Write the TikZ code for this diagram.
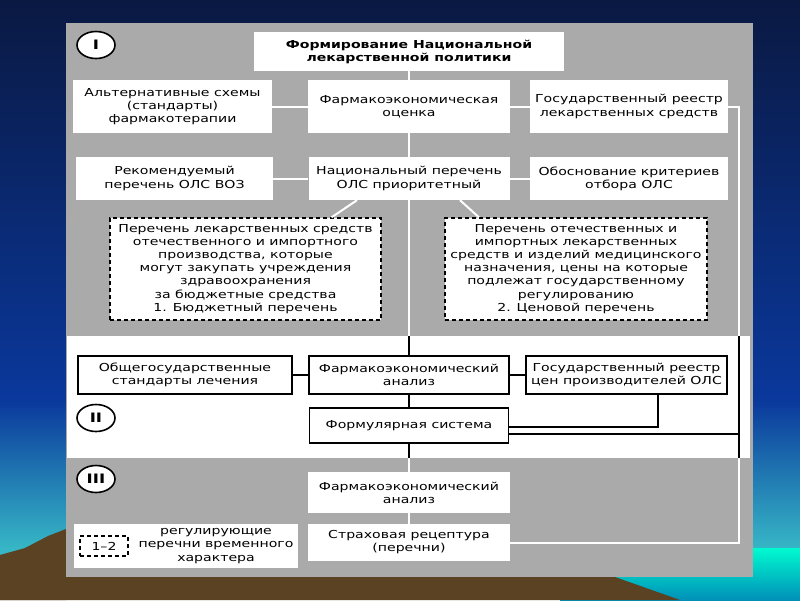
\documentclass[tikz,border=0pt]{standalone}
\usepackage{fontspec}
\setmainfont{DejaVu Sans}[FakeStretch=1.28]
\usetikzlibrary{calc,shapes.geometric}
\definecolor{panel}{HTML}{AAAAAA}
\definecolor{skyA}{HTML}{0A1942}
\definecolor{skyB}{HTML}{0A389C}
\definecolor{skyC}{HTML}{36B6C6}
\definecolor{sea}{HTML}{00FAD0}
\definecolor{seaB}{HTML}{0090B8}
\definecolor{ground}{HTML}{5A4222}
\begin{document}
\begin{tikzpicture}[x=1pt,y=-1pt,
  font=\fontsize{11}{13.1}\selectfont,
  wbox/.style={fill=white, draw=none, align=center, inner sep=0pt},
  dbox/.style={wbox, draw=black, dash pattern=on 4pt off 3pt, line width=1.3pt},
  bbox/.style={wbox, draw=black, line width=1.8pt},
  wl/.style={white, line width=2pt},
  bl/.style={black, line width=2pt},
  circ/.style={ellipse, draw=black, line width=1.6pt, fill=white, minimum width=38pt, minimum height=27pt, inner sep=0pt, font=\bfseries\fontsize{13}{13}\selectfont}]
\useasboundingbox (0,0) rectangle (800,600);
% background scene
\shade[top color=skyA, bottom color=skyB] (0,0) rectangle (800,400);
\shade[top color=skyB, bottom color=skyC] (0,400) rectangle (800,548);
\fill[skyC] (0,548) rectangle (560,600);
\shade[top color=sea, bottom color=seaB] (560,548) rectangle (800,600);
\fill[ground] (0,555) -- (25,548) -- (48,536) -- (66,529) -- (66,600) -- (0,600) -- cycle;
\fill[ground] (0,577) -- (615,577) -- (680,600) -- (0,600) -- cycle;
% panel
\fill[panel] (66,23) rectangle (753,577);
\fill[white] (67,336) rectangle (750,458);
% section markers
\node[circ] (c1) at (96,45) {I};
\node[circ] (c2) at (96,418) {II};
\node[circ] (c3) at (96,479) {III};
% section I
\node[wbox, minimum width=310pt, minimum height=39pt, font=\bfseries\fontsize{11}{13.1}\selectfont] (title) at (409,51.5) {Формирование Национальной\\лекарственной политики};
\node[wbox, minimum width=199pt, minimum height=53pt] (alt) at (172.5,106.5) {Альтернативные схемы\\(стандарты)\\фармакотерапии};
\node[wbox, minimum width=202pt, minimum height=53pt] (pha) at (409,106.5) {Фармакоэкономическая\\оценка};
\node[wbox, minimum width=198pt, minimum height=53pt] (reg) at (629,106.5) {Государственный реестр\\лекарственных средств};
\node[wbox, minimum width=197pt, minimum height=43pt] (rec) at (174.5,178.5) {Рекомендуемый\\перечень ОЛС ВОЗ};
\node[wbox, minimum width=201pt, minimum height=43pt] (nat) at (409,178.5) {Национальный перечень\\ОЛС приоритетный};
\node[wbox, minimum width=198pt, minimum height=43pt] (jus) at (629,178.5) {Обоснование критериев\\отбора ОЛС};
\node[dbox, minimum width=271pt, minimum height=102pt] (dl) at (245.5,269) {Перечень лекарственных средств\\отечественного и импортного\\производства, которые\\могут закупать учреждения\\здравоохранения\\за бюджетные средства\\1. Бюджетный перечень};
\node[dbox, minimum width=262pt, minimum height=102pt] (dr) at (576,269) {Перечень отечественных и\\импортных лекарственных\\средств и изделий медицинского\\назначения, цены на которые\\подлежат государственному\\регулированию\\2. Ценовой перечень};
% section II
\node[bbox, minimum width=214pt, minimum height=38pt] (gen) at (185,375) {Общегосударственные\\стандарты лечения};
\node[bbox, minimum width=200pt, minimum height=38pt] (pan) at (409,375) {Фармакоэкономический\\анализ};
\node[bbox, minimum width=201pt, minimum height=38pt] (regp) at (626.5,375) {Государственный реестр\\цен производителей ОЛС};
\node[bbox, minimum width=199pt, minimum height=35pt] (form) at (409,425.5) {Формулярная система};
% section III
\node[wbox, minimum width=202pt, minimum height=41pt] (pan3) at (409,492.5) {Фармакоэкономический\\анализ};
\node[wbox, minimum width=202pt, minimum height=37pt] (ins) at (409,542.5) {Страховая рецептура\\(перечни)};
\node[wbox, minimum width=224pt, minimum height=44pt] (leg) at (186,546) {};
\node[dbox, minimum width=48pt, minimum height=20pt] (lk) at (104,546) {1–2};
\node[align=center, inner sep=0pt] (lt) at (216,546) {регулирующие\\перечни временного\\характера};
% coordinates
\coordinate (t2) at (409,336);
\coordinate (b2) at (409,458);
\coordinate (rx) at (739,0);
% white connectors
\draw[wl] (title.south) -- (pha.north);
\draw[wl] (alt.east) -- (pha.west);
\draw[wl] (pha.east) -- (reg.west);
\draw[wl] (pha.south) -- (nat.north);
\draw[wl] (rec.east) -- (nat.west);
\draw[wl] (nat.east) -- (jus.west);
\draw[wl] (nat.south) -- (t2);
\draw[wl] ($(nat.south)+(-52,0)$) -- ($(dl.north)+(86,0)$);
\draw[wl] ($(nat.south)+(51,0)$) -- ($(dr.north)+(-97,0)$);
\draw[wl] (reg.east) -- (reg.east -| rx) -- (rx |- t2);
\draw[wl] (b2) -- (pan3.north);
\draw[wl] (pan3.south) -- (ins.north);
\draw[wl] (rx |- b2) -- (rx |- ins.east) -- (ins.east);
% black connectors
\draw[bl] (t2) -- (pan.north);
\draw[bl] (gen.east) -- (pan.west);
\draw[bl] (pan.east) -- (regp.west);
\draw[bl] (pan.south) -- (form.north);
\draw[bl] (form.south) -- (b2);
\draw[bl] ($(regp.south)+(31.5,0)$) |- ($(form.east)+(0,1.5)$);
\draw[bl] ($(form.east)+(0,8.5)$) -- (rx |- {$(form.east)+(0,8.5)$});
\draw[bl] (rx |- t2) -- (rx |- b2);
\end{tikzpicture}
\end{document}
